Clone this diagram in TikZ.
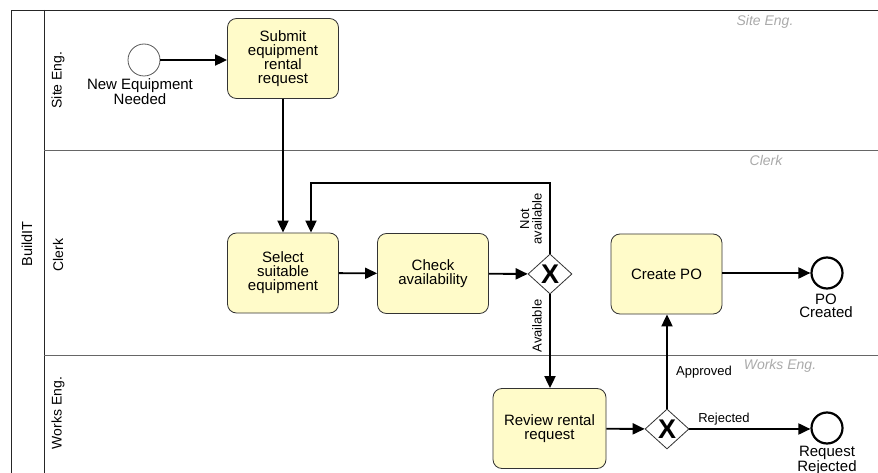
\documentclass[tikz,border=0pt]{standalone}
\usepackage{fontspec}
\setmainfont{Liberation Sans}
\usetikzlibrary{shapes.geometric,arrows.meta}
\definecolor{taskfill}{HTML}{FFFBC9}
\definecolor{lanegray}{HTML}{AAAAAA}
\begin{document}
\begin{tikzpicture}[x=1pt,y=-1pt,
  task/.style={draw=black!80, fill=taskfill, rounded corners=9pt, minimum width=111pt, minimum height=80pt, align=center, inner sep=2pt, font=\fontsize{15}{14}\selectfont, line width=0.8pt},
  gw/.style={diamond, draw=black!80, fill=white, minimum width=44pt, minimum height=40pt, inner sep=0pt, line width=0.8pt, font=\fontsize{27}{27}\bfseries\selectfont},
  startev/.style={circle, draw=black!65, fill=white, minimum size=32pt, inner sep=0pt, line width=0.8pt},
  endev/.style={circle, draw=black, fill=white, minimum size=31pt, inner sep=0pt, line width=2.2pt},
  evlbl/.style={align=center, font=\fontsize{15}{13.5}\selectfont, inner sep=0pt},
  edgelbl/.style={align=center, font=\fontsize{13}{12.5}\selectfont, inner sep=0pt},
  lanelbl/.style={rotate=90, font=\fontsize{14}{14}\selectfont, inner sep=0pt},
  lanename/.style={font=\fontsize{14}{14}\itshape\selectfont, text=lanegray, inner sep=0pt},
  flow/.style={draw=black, line width=1.9pt, -{Triangle[length=12pt,width=11pt]}},
  poolline/.style={draw=black!85, line width=0.9pt},
  laneline/.style={draw=black!60, line width=0.9pt}
]
\useasboundingbox (0,0) rectangle (878,473);
% pool and lanes
\draw[poolline] (878,10) -- (11,10) -- (11,473);
\draw[poolline] (44,10) -- (44,473);
\draw[laneline] (44,150) -- (878,150);
\draw[laneline] (44,355) -- (878,355);
\node[lanelbl, font=\fontsize{14.5}{14.5}\selectfont] (pool) at (27,244) {BuildIT};
\node[lanelbl] (l1) at (58,80) {Site Eng.};
\node[lanelbl] (l2) at (58,255) {Clerk};
\node[lanelbl] (l3) at (58,413) {Works Eng.};
\node[lanename] (n1) at (765,22) {Site Eng.};
\node[lanename] (n2) at (766,160) {Clerk};
\node[lanename] (n3) at (780,366) {Works Eng.};
% nodes
\node[startev] (start) at (144,60) {};
\node[evlbl] (startlbl) at (140,92) {New Equipment\\Needed};
\node[task] (submit) at (283,58.5) {Submit\\equipment\\rental\\request};
\node[task] (select) at (283,273) {Select\\suitable\\equipment};
\node[task] (check) at (433,273.5) {Check\\availability};
\node[gw] (gw1) at (550,274) {X};
\node[task] (create) at (666.5,274) {Create PO};
\node[endev] (poend) at (827,273) {};
\node[evlbl] (polbl) at (826,306) {PO\\Created};
\node[task, minimum width=113pt] (review) at (549.5,428.5) {Review rental\\request};
\node[gw] (gw2) at (667,429) {X};
\node[endev] (rejend) at (827,428) {};
\node[evlbl] (rejlbl) at (827,460) {Request\\Rejected};
% edge labels
\node[edgelbl, rotate=90] (nalbl) at (531,219) {Not\\available};
\node[edgelbl, rotate=90] (avlbl) at (537,326) {Available};
\node[edgelbl] (aplbl) at (704,372) {Approved};
\node[edgelbl] (rjlbl) at (724,419) {Rejected};
% flows
\coordinate (loop) at (311,183);
\draw[flow] (start.east) -- (start.east -| submit.west);
\draw[flow] (submit) -- (select);
\draw[flow] (select) -- (check);
\draw[flow] (check) -- (gw1);
\draw[flow] (gw1.north) |- (loop) -- (loop |- select.north);
\draw[flow] (gw1.south) -- (gw1.south |- review.north);
\draw[flow] (review) -- (gw2);
\draw[flow] (gw2.north) -- (gw2.north |- create.south);
\draw[flow] (gw2.east) -- (gw2.east -| rejend.west);
\draw[flow] (create.east |- poend) -- (poend);
\end{tikzpicture}
\end{document}
